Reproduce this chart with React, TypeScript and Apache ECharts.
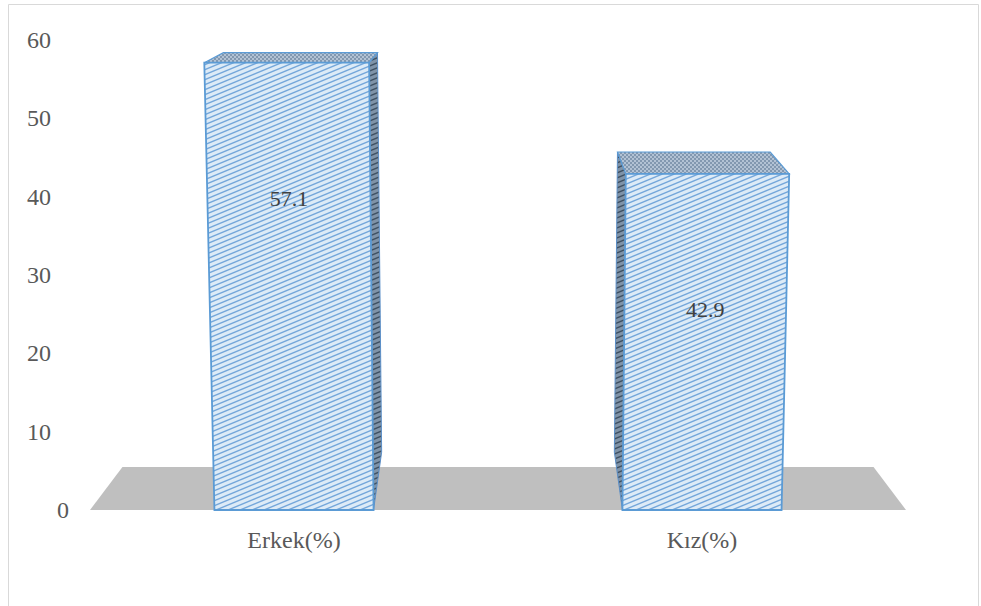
import React, { useEffect, useRef } from 'react';
import * as echarts from 'echarts';

// ---- data ----
const categories: string[] = ['Erkek(%)', 'Kız(%)'];
const values: number[] = [57.1, 42.9];
const yMin = 0;
const yMax = 60;
const yInterval = 10;

// ---- 3D look parameters (styling) ----
const K = 0.00008; // vertical convergence
const DX_BAR = 0.065; // bar depth (x) toward vanishing point
const DY_BAR = 0.107; // bar depth (y) toward vanishing point
const D_FLOOR = 0.0795; // floor depth
const V_RISE = 71; // vanishing point above plot top
const LABEL_OFFSET = 136;
const FONT = '"Liberation Serif", "Times New Roman", serif';

function stripeTile(bg: string, line: string, w: number, h: number, lw: number) {
  const c = document.createElement('canvas');
  c.width = w;
  c.height = h;
  const ctx = c.getContext('2d')!;
  ctx.fillStyle = bg;
  ctx.fillRect(0, 0, w, h);
  ctx.strokeStyle = line;
  ctx.lineWidth = lw;
  for (let k = -1; k <= 1; k++) {
    ctx.beginPath();
    ctx.moveTo(0, h + k * h);
    ctx.lineTo(w, k * h);
    ctx.stroke();
  }
  return c;
}

function dotTile(bg: string, dot: string) {
  const c = document.createElement('canvas');
  c.width = 4;
  c.height = 4;
  const ctx = c.getContext('2d')!;
  ctx.fillStyle = bg;
  ctx.fillRect(0, 0, 4, 4);
  ctx.fillStyle = dot;
  ctx.fillRect(0, 0, 2, 2);
  ctx.fillRect(2, 2, 2, 2);
  return c;
}

export default function App() {
  const ref = useRef<HTMLDivElement>(null);

  useEffect(() => {
    if (!ref.current) return;
    const chart = echarts.init(ref.current, undefined, { renderer: 'svg' });

    const frontFill = { image: stripeTile('#ddebf7', '#74a6da', 12, 5, 1.4), repeat: 'repeat' };
    const sideFill = { image: stripeTile('#7f93a8', '#3e5062', 12, 5, 1.4), repeat: 'repeat' };
    const topFill = { image: dotTile('#b2c2d4', '#8298b0'), repeat: 'repeat' };

    const floorSeries: any = {
      type: 'custom',
      coordinateSystem: 'cartesian2d',
      silent: true,
      data: [[0, 0]],
      encode: { x: 0, y: 1 },
      renderItem: (params: any, api: any) => {
        const cs = params.coordSys;
        const cx = cs.x + cs.width / 2;
        const base = api.coord([0, 0]);
        const yb = base[1];
        const V = [cx, cs.y - V_RISE];
        const back = (p: number[]) => [p[0] + D_FLOOR * (V[0] - p[0]), p[1] + D_FLOOR * (V[1] - p[1])];
        const fl = [cs.x, yb];
        const fr = [cs.x + cs.width, yb];
        return {
          type: 'polygon',
          shape: { points: [fl, fr, back(fr), back(fl)] },
          style: { fill: '#bfbfbf', stroke: 'none' },
        };
      },
    };

    const barSeries: any = {
      type: 'custom',
      coordinateSystem: 'cartesian2d',
      silent: true,
      data: values.map((v, i) => [i, v]),
      encode: { x: 0, y: 1 },
      renderItem: (params: any, api: any) => {
        const cs = params.coordSys;
        const cx = cs.x + cs.width / 2;
        const idx = api.value(0);
        const val = api.value(1);
        const pb = api.coord([idx, 0]);
        const pt = api.coord([idx, val]);
        const yb = pb[1];
        const V = [cx, cs.y - V_RISE];
        const w = api.size([1, 0])[0] * 0.39;
        const spread = (x: number, y: number) => [cx + (x - cx) * (1 + K * (yb - y)), y];
        const back = (p: number[]) => [p[0] + DX_BAR * (V[0] - p[0]), p[1] + DY_BAR * (V[1] - p[1])];
        const FBL = [pb[0] - w / 2, yb];
        const FBR = [pb[0] + w / 2, yb];
        const FTL = spread(pb[0] - w / 2, pt[1]);
        const FTR = spread(pb[0] + w / 2, pt[1]);
        const leftOfCenter = pb[0] < cx;
        const sidePts = leftOfCenter
          ? [FTR, back(FTR), back(FBR), FBR]
          : [FTL, back(FTL), back(FBL), FBL];
        const ly = pt[1] + LABEL_OFFSET;
        const lp = spread(pb[0], ly);
        return {
          type: 'group',
          children: [
            {
              type: 'polygon',
              shape: { points: sidePts },
              style: { fill: sideFill, stroke: '#5b8fc8', lineWidth: 1 },
            },
            {
              type: 'polygon',
              shape: { points: [FTL, FTR, back(FTR), back(FTL)] },
              style: { fill: topFill, stroke: '#5b9bd5', lineWidth: 1.2 },
            },
            {
              type: 'polygon',
              shape: { points: [FBL, FBR, FTR, FTL] },
              style: { fill: frontFill, stroke: '#5b9bd5', lineWidth: 1.8 },
            },
            {
              type: 'text',
              x: lp[0],
              y: lp[1],
              style: {
                text: String(val),
                fill: '#404040',
                fontSize: 22,
                fontFamily: 'Liberation Serif',
                align: 'center',
                verticalAlign: 'middle',
                textAlign: 'center',
                textVerticalAlign: 'middle',
              },
            },
          ],
        };
      },
    };

    const yAxisBase = {
      type: 'value',
      min: yMin,
      max: yMax,
      interval: yInterval,
      axisLine: { show: false },
      axisTick: { show: false },
      splitLine: { show: false },
    };

    chart.setOption({
      animation: false,
      backgroundColor: '#ffffff',
      grid: { left: 90, right: 75, top: 40, bottom: 96 },
      xAxis: {
        type: 'category',
        data: categories,
        axisLine: { show: false },
        axisTick: { show: false },
        axisLabel: { margin: 18, fontSize: 24, fontFamily: FONT, color: '#595959' },
      },
      yAxis: [
        {
          ...yAxisBase,
          axisLabel: {
            margin: 39,
            fontSize: 24,
            fontFamily: FONT,
            color: '#595959',
            formatter: (v: number) => (v === 0 ? '' : String(v)),
          },
        },
        {
          ...yAxisBase,
          position: 'left',
          axisLabel: {
            margin: 21,
            fontSize: 24,
            fontFamily: FONT,
            color: '#595959',
            formatter: (v: number) => (v === 0 ? '0' : ''),
          },
        },
      ],
      graphic: [
        {
          type: 'rect',
          silent: true,
          shape: { x: 8.5, y: 4.5, width: 970, height: 610 },
          style: { fill: 'none', stroke: '#d9d9d9', lineWidth: 1 },
        },
      ],
      series: [floorSeries, barSeries],
    });

    return () => chart.dispose();
  }, []);

  return (
    <div
      ref={ref}
      style={{ position: 'absolute', left: 0, top: 0, width: 981, height: 606 }}
    />
  );
}
